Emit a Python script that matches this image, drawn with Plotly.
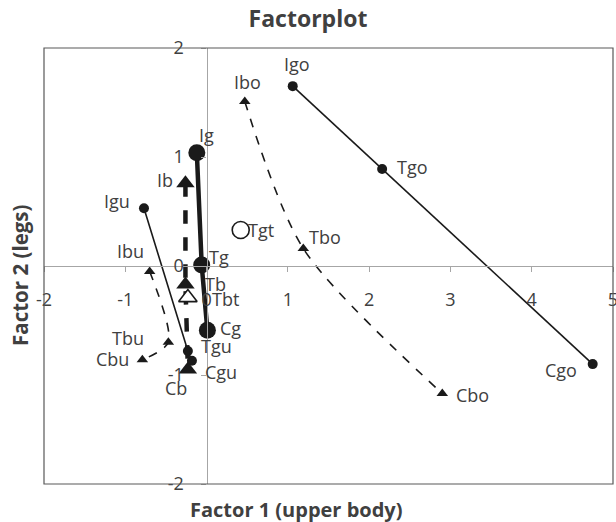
import plotly.graph_objects as go

# ---- data ----
g_labels = ["Ig", "Tg", "Cg"]
g_x = [-0.12, -0.06, 0.01]
g_y = [1.04, 0.01, -0.59]

b_labels = ["Ib", "Tb", "Cb"]
b_x = [-0.26, -0.26, -0.23]
b_y = [0.76, -0.17, -0.95]

gu_labels = ["Igu", "Tgu", "Cgu"]
gu_x = [-0.77, -0.23, -0.18]
gu_y = [0.53, -0.78, -0.87]

bu_labels = ["Ibu", "Tbu", "Cbu"]
bu_x = [-0.70, -0.47, -0.79]
bu_y = [-0.05, -0.70, -0.86]

go_labels = ["Igo", "Tgo", "Cgo"]
go_x = [1.06, 2.16, 4.75]
go_y = [1.65, 0.89, -0.90]

bo_labels = ["Ibo", "Tbo", "Cbo"]
bo_x = [0.47, 1.19, 2.90]
bo_y = [1.51, 0.16, -1.17]

tgt_label = ["Tgt"]
tgt_x = [0.42]
tgt_y = [0.33]

tbt_label = ["Tbt"]
tbt_x = [-0.23]
tbt_y = [-0.29]

x_ticks = [-2, -1, 0, 1, 2, 3, 4, 5]
y_ticks = [-2, -1, 0, 1, 2]
x_range = [-2, 5]
y_range = [-2, 2]

INK = "#1a1a1a"
TXT = "#404040"
FONT = "Open Sans"

fig = go.Figure()

def add_series(xs, ys, symbol, msize, lwidth, dash, shape="linear", fill=True):
    fig.add_trace(go.Scatter(
        x=xs, y=ys, mode="lines+markers" if len(xs) > 1 else "markers",
        line=dict(color=INK, width=lwidth, dash=dash, shape=shape, smoothing=0.8),
        marker=dict(symbol=symbol, size=msize,
                    color=INK if fill else "white",
                    line=dict(color=INK, width=0 if fill else 1.6)),
        showlegend=False, hoverinfo="skip", cliponaxis=False))

add_series(gu_x, gu_y, "circle", 10, 1.6, "solid")
add_series(bu_x, bu_y, "triangle-up", 10, 1.6, "dash", "spline")
add_series(go_x, go_y, "circle", 10, 1.6, "solid")
add_series(bo_x, bo_y, "triangle-up", 10, 1.6, "dash", "spline")
add_series(b_x, b_y, "triangle-up", 16, 4.5, "dash")
add_series(g_x, g_y, "circle", 17, 4.5, "solid")
add_series(tgt_x, tgt_y, "circle", 17, 0, "solid", fill=False)
add_series(tbt_x, tbt_y, "triangle-up", 16, 0, "solid", fill=False)

# label offsets (pixels) — styling only
offsets = {
    "Ig": (10, 18), "Tg": (17, 8), "Cg": (23, 2),
    "Ib": (-20, 3), "Tb": (30, 1), "Cb": (-12, -18),
    "Igu": (-27, 7), "Tgu": (29, 5), "Cgu": (29, -11),
    "Ibu": (-19, 20), "Tbu": (-40, 4), "Cbu": (-30, 1),
    "Igo": (4, 22), "Tgo": (30, 2), "Cgo": (-32, -6),
    "Ibo": (3, 19), "Tbo": (22, 12), "Cbo": (30, -1),
    "Tgt": (20, 0), "Tbt": (38, -1),
}

annotations = []
for labels, xs, ys in [(g_labels, g_x, g_y), (b_labels, b_x, b_y), (gu_labels, gu_x, gu_y),
                       (bu_labels, bu_x, bu_y), (go_labels, go_x, go_y), (bo_labels, bo_x, bo_y),
                       (tgt_label, tgt_x, tgt_y), (tbt_label, tbt_x, tbt_y)]:
    for lab, xv, yv in zip(labels, xs, ys):
        dx, dy = offsets[lab]
        annotations.append(dict(x=xv, y=yv, xref="x", yref="y", text=lab, showarrow=False,
                                xshift=dx, yshift=dy, font=dict(family=FONT, size=18, color=TXT)))

W, H = 616, 522
ml, mr, mt, mb = 44, 3, 48, 38
pw, ph = W - ml - mr, H - mt - mb

# axis titles (paper coords relative to plot area)
annotations.append(dict(x=(296 - ml) / pw, y=-(509 - (H - mb)) / ph, xref="paper", yref="paper",
                        text="<b>Factor 1 (upper body)</b>", showarrow=False,
                        xanchor="center", yanchor="middle",
                        font=dict(family=FONT, size=20, color=TXT)))
annotations.append(dict(x=-(ml - 20) / pw, y=(H - mb - 275) / ph, xref="paper", yref="paper",
                        text="<b>Factor 2 (legs)</b>", showarrow=False, textangle=-90,
                        xanchor="center", yanchor="middle",
                        font=dict(family=FONT, size=20.5, color=TXT)))

fig.update_layout(
    width=W, height=H,
    margin=dict(l=ml, r=mr, t=mt, b=mb, autoexpand=False),
    paper_bgcolor="white", plot_bgcolor="white",
    title=dict(text="<b>Factorplot</b>", x=0.5, xref="container", xanchor="center",
               y=1 - 19 / H, yref="container", yanchor="middle",
               font=dict(family=FONT, size=23, color=TXT)),
    xaxis=dict(range=x_range, tickvals=x_ticks, ticktext=[str(v) for v in x_ticks],
               showgrid=False, zeroline=False, showline=True, linecolor="#a6a6a6", linewidth=1.2,
               anchor="free", position=(0 - y_range[0]) / (y_range[1] - y_range[0]),
               ticks="outside", ticklen=5, tickcolor="#a6a6a6",
               ticklabelstandoff=12, ticklabeloverflow="allow", automargin=False,
               tickfont=dict(family=FONT, size=18, color=TXT)),
    yaxis=dict(range=y_range, tickvals=y_ticks, ticktext=[str(v) for v in y_ticks],
               showgrid=False, zeroline=False, showline=True, linecolor="#a6a6a6", linewidth=1.2,
               anchor="free", position=(0 - x_range[0]) / (x_range[1] - x_range[0]),
               ticks="outside", ticklen=5, tickcolor="#a6a6a6",
               ticklabelstandoff=14, ticklabeloverflow="allow", automargin=False,
               tickfont=dict(family=FONT, size=18, color=TXT)),
    annotations=annotations,
    shapes=[dict(type="rect", xref="paper", yref="paper", x0=0, y0=0, x1=1, y1=1,
                 line=dict(color="#595959", width=1.2), layer="above")],
)

fig.write_html("out.html", config={"displayModeBar": False},
               post_script="document.body.style.margin='0';")
